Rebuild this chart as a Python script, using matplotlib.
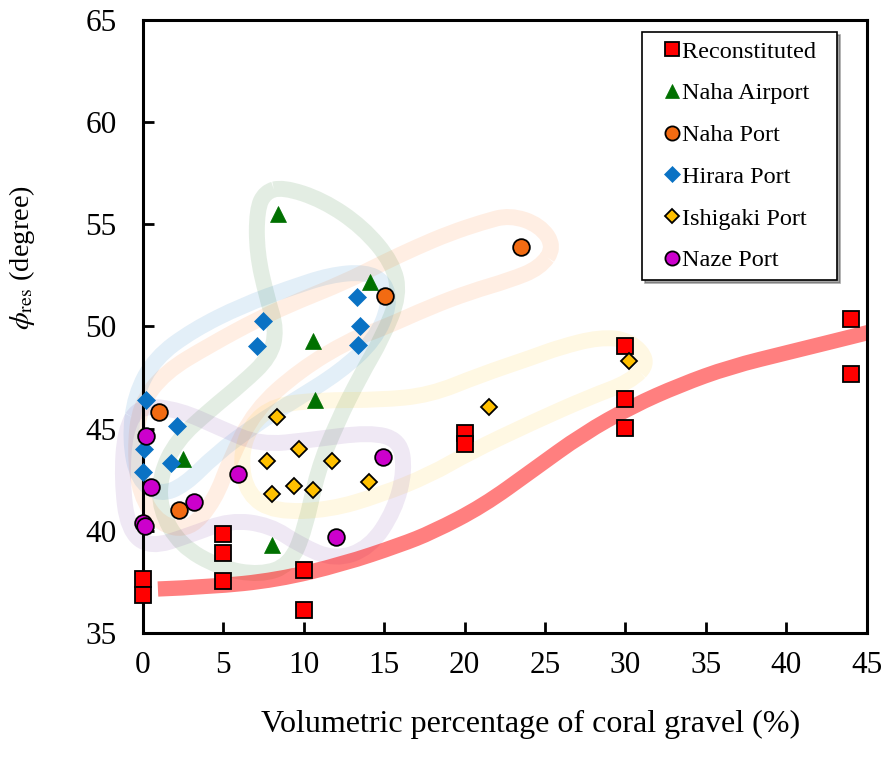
import matplotlib
matplotlib.use("Agg")
import matplotlib.pyplot as plt
from matplotlib.path import Path
from matplotlib.patches import PathPatch

plt.rcParams['font.family'] = ['Liberation Serif', 'DejaVu Serif']
plt.rcParams['mathtext.fontset'] = 'stix'

# data
recon_x = [0, 0, 5, 5, 5, 10, 10, 20, 20, 30, 30, 30, 44, 44]
recon_y = [37.65, 36.86, 39.85, 38.92, 37.55, 38.1, 36.1, 44.8, 44.25, 49.05, 46.45, 45.05, 50.35, 47.65]

airport_x = [8.4, 14.1, 10.6, 10.7, 2.5, 8.0]
airport_y = [55.5, 52.2, 49.3, 46.4, 43.5, 39.3]

nport_x = [1.0, 2.24, 15.06, 23.5]
nport_y = [45.8, 41.0, 51.5, 53.9]

hirara_x = [0.2, 2.1, 0.06, 1.74, 0.0, 7.47, 7.1, 13.3, 13.5, 13.4]
hirara_y = [46.4, 45.15, 44.0, 43.3, 42.9, 50.25, 49.05, 51.45, 50.0, 49.1]

ishi_x = [8.35, 7.7, 9.7, 11.75, 8.0, 9.4, 10.6, 14.06, 21.5, 30.2]
ishi_y = [45.55, 43.4, 44.0, 43.4, 41.8, 42.2, 42.0, 42.4, 46.05, 48.3]

naze_x = [0.2, 0.5, 0.0, 0.1, 5.9, 3.2, 12.0, 14.9]
naze_y = [44.66, 42.15, 40.4, 40.24, 42.8, 41.4, 39.7, 43.6]

labels = ['Reconstituted', 'Naha Airport', 'Naha Port', 'Hirara Port', 'Ishigaki Port', 'Naze Port']

# trend line for reconstituted samples (guide points)
trend_x = [0.93, 4.16, 8.33, 12.43, 15.97, 18.02, 21.13, 24.24, 27.35, 30.45, 33.37, 36.48, 40.21, 45.0, 47.0]
trend_y = [37.15, 37.25, 37.59, 38.37, 39.3, 39.94, 41.21, 42.97, 44.74, 46.11, 47.13, 48.02, 48.75, 49.68, 50.1]

# hand drawn group outlines (guide points)
green_x = [8.70, 11.18, 13.66, 15.53, 15.96, 14.91, 13.48, 12.05, 10.87, 10.06, 9.13, 7.27, 4.78, 2.30, 1.06,
           1.06, 2.11, 4.16, 6.21, 7.89, 8.32, 7.70, 7.08, 7.08, 7.58]
green_y = [56.83, 56.19, 54.87, 53.11, 51.54, 49.48, 47.53, 45.27, 42.97, 40.04, 38.32, 37.83, 38.18, 39.30, 41.02,
           42.73, 44.44, 45.91, 47.23, 48.50, 49.83, 51.44, 53.60, 55.70, 56.58]

orange_x = [25.61, 24.67, 22.81, 21.13, 19.08, 17.03, 14.92, 12.43, 9.76, 7.27, 4.16, 1.37, -0.19, -0.50, -0.19,
            1.06, 2.92, 4.47, 5.41, 6.96, 9.76, 12.87, 14.92, 17.84, 20.32, 22.81, 24.67]
orange_y = [53.89, 54.97, 55.46, 55.11, 54.57, 53.89, 53.11, 52.13, 51.29, 50.41, 49.09, 47.77, 46.16, 43.95, 41.75,
            40.28, 40.04, 41.51, 43.46, 45.91, 47.87, 49.34, 49.92, 50.95, 51.69, 52.27, 52.86]

blue_x = [15.04, 13.80, 11.62, 9.14, 6.22, 3.11, 0.75, -0.50, -0.81, -0.31, 1.06, 2.61, 4.47, 6.96, 9.45,
          12.24, 14.42, 15.35]
blue_y = [52.18, 52.67, 52.52, 51.88, 51.05, 49.83, 48.46, 46.64, 44.44, 42.48, 41.75, 42.24, 43.71, 45.18, 46.40,
          47.77, 49.34, 51.05]

yellow_x = [31.51, 30.27, 28.40, 25.92, 24.24, 20.94, 17.84, 14.73, 11.00, 8.20, 6.65, 6.03, 6.53, 8.20, 11.62,
            14.73, 17.84, 20.32, 24.24, 27.78, 30.27]
yellow_y = [48.26, 49.34, 49.48, 48.99, 48.50, 47.62, 46.64, 46.40, 46.40, 46.16, 45.18, 43.46, 41.75, 40.92, 41.02,
            41.75, 42.73, 43.85, 45.32, 46.55, 47.28]

purple_x = [-0.19, 2.30, 4.79, 7.27, 10.38, 14.11, 15.97, 16.28, 15.66, 14.11, 11.93, 9.76, 7.89, 5.41, 2.92,
            0.44, -0.93, -1.31, -1.12]
purple_y = [46.16, 45.91, 45.03, 44.20, 44.44, 44.83, 44.44, 42.97, 41.02, 39.16, 38.57, 39.30, 40.28, 40.53, 39.79,
            39.16, 40.04, 42.48, 44.93]


def smooth_path(xs, ys, closed):
    # quadratic bezier through midpoints, guide points act as control points
    pts = list(zip(xs, ys))
    mid = lambda a, b: ((a[0] + b[0]) / 2, (a[1] + b[1]) / 2)
    if closed:
        verts = [mid(pts[-1], pts[0])]
        codes = [Path.MOVETO]
        n = len(pts)
        for i in range(n):
            verts += [pts[i], mid(pts[i], pts[(i + 1) % n])]
            codes += [Path.CURVE3, Path.CURVE3]
    else:
        verts = [pts[0]]
        codes = [Path.MOVETO]
        for i in range(1, len(pts) - 1):
            verts += [pts[i], mid(pts[i], pts[i + 1])]
            codes += [Path.CURVE3, Path.CURVE3]
        verts.append(pts[-1])
        codes.append(Path.LINETO)
    return Path(verts, codes)


fig = plt.figure(figsize=(8.88, 7.58), dpi=100)
ax = fig.add_axes([0.161, 0.165, 0.815, 0.8086])

# outlines
for lx, ly, c in [(green_x, green_y, '#006400'), (orange_x, orange_y, '#ff6a00'),
                  (blue_x, blue_y, '#0070c0'), (yellow_x, yellow_y, '#ffc000'),
                  (purple_x, purple_y, '#7030a0')]:
    ax.add_patch(PathPatch(smooth_path(lx, ly, True), fill=False, edgecolor=c, alpha=0.11,
                           lw=11.5, joinstyle='round', clip_on=False, zorder=1))

ax.add_patch(PathPatch(smooth_path(trend_x, trend_y, False), fill=False, edgecolor='red',
                       alpha=0.5, lw=11, capstyle='butt', zorder=2))

ax.plot(recon_x, recon_y, 's', ms=12, mfc='#ff0000', mec='black', mew=1.3,
        label=labels[0] + '  ', clip_on=False, zorder=5)
ax.plot(airport_x, airport_y, '^', ms=12, mfc='#007000', mec='#007000', mew=0.5,
        label=labels[1], clip_on=False, zorder=5)
ax.plot(nport_x, nport_y, 'o', ms=12, mfc='#f26b12', mec='black', mew=1.3,
        label=labels[2], clip_on=False, zorder=5)
ax.plot(hirara_x, hirara_y, 'D', ms=9, mfc='#0a72c4', mec='#0a72c4', mew=0.5,
        label=labels[3], clip_on=False, zorder=5)
ax.plot(ishi_x, ishi_y, 'D', ms=8, mfc='#ffc000', mec='black', mew=1.3,
        label=labels[4], clip_on=False, zorder=5)
ax.plot(naze_x, naze_y, 'o', ms=12, mfc='#cc00cc', mec='black', mew=1.3,
        label=labels[5], clip_on=False, zorder=5)

ax.set_xlim(0, 45)
ax.set_ylim(35, 65)
ax.set_xticks(range(0, 46, 5))
ax.set_yticks(range(35, 66, 5))
ax.tick_params(direction='in', length=8, width=2, labelsize=22.5)
ax.tick_params(axis='x', pad=13)
ax.tick_params(axis='y', pad=19)
for s in ax.spines.values():
    s.set_linewidth(2.2)

ax.set_xlabel('Volumetric percentage of coral gravel (%)', fontsize=23)
ax.xaxis.set_label_coords(0.535, -0.125)
ax.set_ylabel(r'$\phi_{\mathrm{res}}$ (degree)', fontsize=20.5)
ax.yaxis.set_label_coords(-0.146, 0.612)

leg = ax.legend(loc='upper right', bbox_to_anchor=(0.9586, 0.980), borderaxespad=0,
                fontsize=17.5, fancybox=False, shadow=True, edgecolor='black',
                framealpha=1, labelspacing=0.81, handlelength=1.77, handletextpad=-0.47,
                borderpad=0.35, markerscale=0.85)
leg.get_frame().set_linewidth(1.2)

fig.savefig('out.png', dpi=100)
